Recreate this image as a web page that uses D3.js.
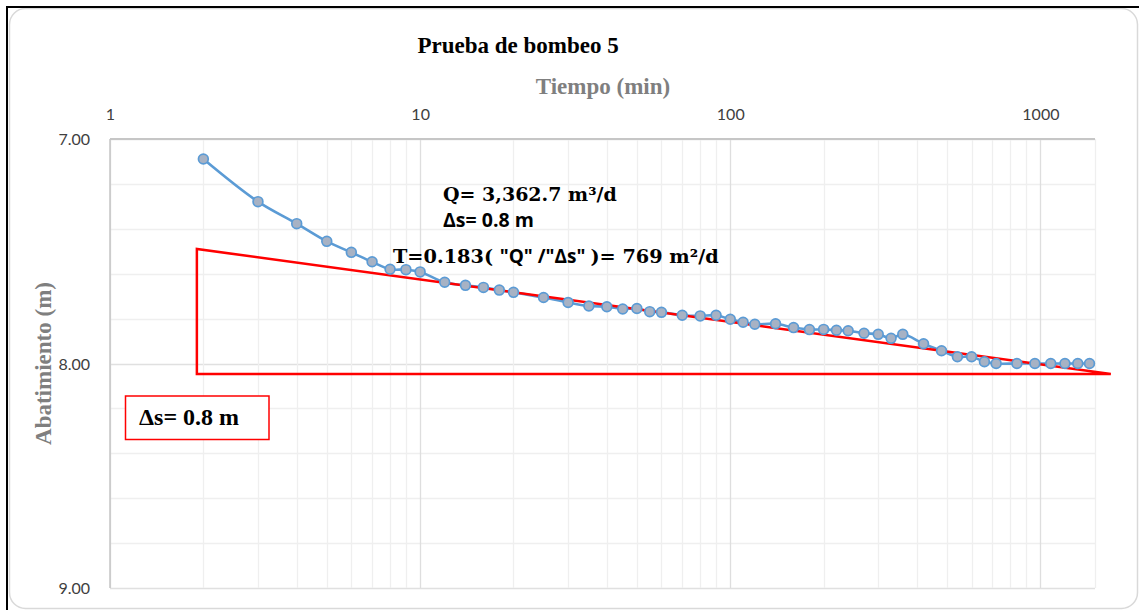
<!DOCTYPE html>
<html>
<head>
<meta charset="utf-8">
<script src="https://cdn.jsdelivr.net/npm/d3@7"></script>
<style>
  html, body { margin: 0; padding: 0; background: #ffffff; }
  svg { display: block; }
</style>
</head>
<body>
<svg id="chart" width="1139" height="610"></svg>
<script>
// ---- Data ----
const chartTitle = "Prueba de bombeo 5";
const xAxisTitle = "Tiempo (min)";
const yAxisTitle = "Abatimiento (m)";
const timeMin = [2, 3, 4, 5, 6, 7, 8, 9, 10, 12, 14, 16, 18, 20, 25, 30, 35, 40, 45, 50, 55, 60, 70, 80, 90, 100,
  110, 120, 140, 160, 180, 200, 220, 240, 270, 300, 330, 360, 420, 480, 540, 600, 660, 720, 840, 960, 1080, 1200, 1320, 1440];
const drawdown = [7.089, 7.279, 7.377, 7.456, 7.505, 7.547, 7.580, 7.582, 7.592, 7.638, 7.652, 7.661, 7.673, 7.683,
  7.706, 7.728, 7.744, 7.747, 7.757, 7.755, 7.769, 7.772, 7.785, 7.788, 7.785, 7.803,
  7.816, 7.825, 7.823, 7.840, 7.849, 7.848, 7.852, 7.854, 7.865, 7.870, 7.888, 7.870, 7.912, 7.943, 7.970, 7.970,
  7.992, 8.00, 8.00, 8.00, 8.00, 8.00, 8.00, 8.00];
const xTickValues = [1, 10, 100, 1000];
const xTickLabels = ["1", "10", "100", "1000"];
const yTickValues = [7, 8, 9];
const yTickLabels = ["7.00", "8.00", "9.00"];
const xDomain = [1, 1500];
const yDomain = [7, 9];
// Jacob straight-line annotation (time, drawdown) triangle corners
const triangleT = [1.906, 1.906, 1687];
const triangleS = [7.49, 8.047, 8.047];
const annotQ = "Q= 3,362.7 m³/d";
const annotDs = "Δs= 0.8 m";
const annotT = ["T=0.183( ", "\"Q\" /\"Δs\"  ", ")= 769 m²/d"];
const boxLabel = "Δs= 0.8 m";

// ---- Layout ----
const svg = d3.select("#chart");
const W = 1139, H = 610;
const plot = { left: 110, right: 1095, top: 139, bottom: 588 };
const serif = "'Liberation Serif', 'Times New Roman', serif";
const serifWide = "'DejaVu Serif', serif";
const sans = "Lato, 'Liberation Sans', sans-serif";
const sansBold = "'Open Sans', sans-serif";

svg.append("rect").attr("width", W).attr("height", H).attr("fill", "#fff");
// rounded inner chart border
svg.append("rect").attr("x", 9.5).attr("y", 8.5).attr("width", 1128).attr("height", 600)
  .attr("rx", 16).attr("fill", "#fff").attr("stroke", "#d9d9d9").attr("stroke-width", 1.5);
// black frame (top & left)
svg.append("line").attr("x1", 6).attr("x2", W).attr("y1", 7).attr("y2", 7).attr("stroke", "#000").attr("stroke-width", 2);
svg.append("line").attr("x1", 7).attr("x2", 7).attr("y1", 6).attr("y2", H).attr("stroke", "#000").attr("stroke-width", 2);

const x = d3.scaleLog().domain(xDomain).range([plot.left, plot.right]);
const y = d3.scaleLinear().domain(yDomain).range([plot.top, plot.bottom]);

// gridlines
const g = svg.append("g");
const minorX = [];
for (let dec = 1; dec <= 1000; dec *= 10) {
  for (let k = 1; k <= 9; k++) {
    const v = k * dec;
    if (v <= xDomain[1]) minorX.push(v);
  }
}
const hLines = d3.range(7, 9.0001, 0.2);
g.selectAll(".hg").data(hLines).join("line")
  .attr("x1", plot.left).attr("x2", plot.right)
  .attr("y1", d => Math.round(y(d)) + 0.5).attr("y2", d => Math.round(y(d)) + 0.5)
  .attr("stroke", d => Math.abs(d - Math.round(d)) < 1e-6 ? "#e0e0e0" : "#efefef").attr("stroke-width", 1.3);
g.selectAll(".vg").data(minorX).join("line")
  .attr("x1", d => Math.round(x(d)) + 0.5).attr("x2", d => Math.round(x(d)) + 0.5)
  .attr("y1", plot.top).attr("y2", plot.bottom)
  .attr("stroke", d => xTickValues.includes(d) ? "#dedede" : "#efefef").attr("stroke-width", 1.3);
g.append("line").attr("x1", plot.right + 0.5).attr("x2", plot.right + 0.5).attr("y1", plot.top).attr("y2", plot.bottom)
  .attr("stroke", "#efefef").attr("stroke-width", 1.3);

// axes lines
svg.append("line").attr("x1", plot.left).attr("x2", plot.right).attr("y1", plot.top).attr("y2", plot.top)
  .attr("stroke", "#c6c6c6").attr("stroke-width", 2);
svg.append("line").attr("x1", plot.left).attr("x2", plot.left).attr("y1", plot.top).attr("y2", plot.bottom)
  .attr("stroke", "#c6c6c6").attr("stroke-width", 1.5);

// axis tick labels using d3 axes
const xAxis = d3.axisTop(x).tickValues(xTickValues).tickFormat((d, i) => xTickLabels[i]).tickSize(0).tickPadding(0);
const xg = svg.append("g").attr("transform", `translate(0,${plot.top})`).call(xAxis);
xg.select(".domain").remove();
xg.selectAll("text").attr("font-family", sans).attr("font-size", 16).attr("fill", "#404040")
  .attr("dy", 0).attr("y", -19);

const yAxis = d3.axisLeft(y).tickValues(yTickValues).tickFormat((d, i) => yTickLabels[i]).tickSize(0).tickPadding(20);
const yg = svg.append("g").attr("transform", `translate(${plot.left},0)`).call(yAxis);
yg.select(".domain").remove();
yg.selectAll("text").attr("font-family", sans).attr("font-size", 16).attr("fill", "#404040")
  .attr("dy", "0.37em");

// titles
svg.append("text").attr("x", 518).attr("y", 53).attr("text-anchor", "middle")
  .attr("font-family", serif).attr("font-weight", "bold").attr("font-size", 23).attr("fill", "#000").text(chartTitle);
svg.append("text").attr("x", 603).attr("y", 94).attr("text-anchor", "middle")
  .attr("font-family", serif).attr("font-weight", "bold").attr("font-size", 23).attr("fill", "#7f7f7f").text(xAxisTitle);
svg.append("text").attr("transform", `translate(51,${(plot.top + plot.bottom) / 2}) rotate(-90)`).attr("text-anchor", "middle")
  .attr("font-family", serif).attr("font-weight", "bold").attr("font-size", 23).attr("fill", "#7f7f7f").text(yAxisTitle);

// data line
const pts = timeMin.map((t, i) => [t, drawdown[i]]);
const line = d3.line().x(d => x(d[0])).y(d => y(d[1])).curve(d3.curveCatmullRom.alpha(0.5));
svg.append("path").datum(pts).attr("d", line).attr("fill", "none")
  .attr("stroke", "#5b9bd5").attr("stroke-width", 2.6);

// red triangle annotation
const tri = triangleT.map((t, i) => [t, triangleS[i]]);
const triLine = d3.line().x(d => x(d[0])).y(d => y(d[1]));
svg.append("path").attr("d", triLine(tri) + "Z").attr("fill", "none")
  .attr("stroke", "#ff0000").attr("stroke-width", 2.5).attr("stroke-linejoin", "miter");

// markers
svg.selectAll(".pt").data(pts).join("circle")
  .attr("cx", d => x(d[0])).attr("cy", d => y(d[1])).attr("r", 4.9)
  .attr("fill", "#a7b2c4").attr("stroke", "#5b9bd5").attr("stroke-width", 1.7);

// annotation texts
svg.append("text").attr("x", 443).attr("y", 201)
  .attr("font-family", serifWide).attr("font-weight", "bold").attr("font-size", 19).attr("fill", "#000").text(annotQ);
svg.append("text").attr("x", 443).attr("y", 227)
  .attr("font-family", sansBold).attr("font-weight", "bold").attr("font-size", 19.5).attr("fill", "#000").text(annotDs);
const tt = svg.append("text").attr("x", 393).attr("y", 263).attr("font-weight", "bold").attr("font-size", 19.3).attr("fill", "#000");
tt.append("tspan").attr("font-family", serifWide).text(annotT[0]);
tt.append("tspan").attr("font-family", sansBold).attr("font-size", 19).text(annotT[1]);
tt.append("tspan").attr("font-family", serifWide).text(annotT[2]);

// Δs box
svg.append("rect").attr("x", 125.5).attr("y", 396).attr("width", 143.5).attr("height", 43.5)
  .attr("fill", "#fff").attr("stroke", "#ff0000").attr("stroke-width", 1.5);
svg.append("text").attr("x", 139).attr("y", 425)
  .attr("font-family", serif).attr("font-weight", "bold").attr("font-size", 24).attr("fill", "#000").text(boxLabel);
</script>
</body>
</html>
